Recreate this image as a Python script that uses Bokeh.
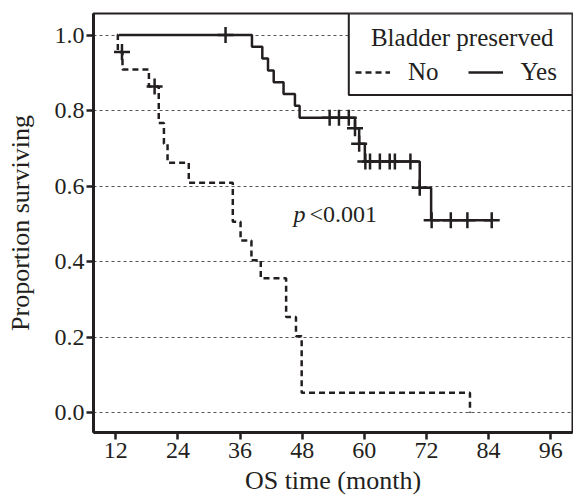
import numpy as np
from bokeh.plotting import figure
from bokeh.models import Range1d, Legend, LegendItem, NumeralTickFormatter, BoxAnnotation, Label
from bokeh.embed import file_html
from bokeh.resources import INLINE
from bokeh.core.properties import value

# ---- data ----
# Bladder not preserved (No)
no_time = [12.2, 12.4, 13.3, 18.4, 20.3, 21.3, 22.0, 26.1, 34.6, 36.1, 38.2, 40.0, 44.9, 46.8, 47.9, 80.4]
no_surv = [1.0, 0.955, 0.909, 0.864, 0.767, 0.712, 0.662, 0.609, 0.506, 0.456, 0.404, 0.356, 0.254, 0.203, 0.053, 0.0]
no_cens_time = [13.2, 19.5]
no_cens_surv = [0.955, 0.864]

# Bladder preserved (Yes)
yes_time = [12.6, 38.3, 40.3, 41.4, 42.5, 44.4, 46.6, 47.5, 58.2, 59.0, 60.1, 70.7, 72.9, 84.6]
yes_surv = [1.0, 0.969, 0.938, 0.906, 0.875, 0.844, 0.813, 0.781, 0.753, 0.712, 0.665, 0.596, 0.510, 0.510]
yes_cens_time = [33.2, 53.3, 55.1, 57.0, 58.2, 59.0, 60.2, 61.1, 63.0, 64.9, 65.9, 68.9, 70.7, 73.0, 76.7, 79.9, 84.6]
yes_cens_surv = [1.0, 0.781, 0.781, 0.781, 0.753, 0.712, 0.665, 0.665, 0.665, 0.665, 0.665, 0.665, 0.596, 0.510, 0.510, 0.510, 0.510]

x_ticks = [12, 24, 36, 48, 60, 72, 84, 96]
y_ticks = [0.0, 0.2, 0.4, 0.6, 0.8, 1.0]

FONT = "Liberation Serif"
INK = "#231f20"
X0, X1 = 7.7, 100.2
Y0, Y1 = -0.052, 1.057

p = figure(width=573, height=499,
           x_range=Range1d(X0, X1), y_range=Range1d(Y0, Y1),
           output_backend="svg", toolbar_location=None,
           min_border_left=93, min_border_right=1, min_border_top=13, min_border_bottom=67)

p.outline_line_color = INK
p.outline_line_width = 2
p.outline_line_alpha = 1.0
p.background_fill_color = "white"
p.border_fill_color = "white"

p.xgrid.visible = False
p.ygrid.grid_line_color = "#555555"
p.ygrid.grid_line_dash = "3 3"
p.ygrid.grid_line_width = 1

p.xaxis.ticker = x_ticks
p.yaxis.ticker = y_ticks
p.yaxis.formatter = NumeralTickFormatter(format="0.0")

for ax in (p.xaxis, p.yaxis):
    ax.axis_line_color = INK
    ax.axis_line_width = 3
    ax.major_tick_line_color = INK
    ax.major_tick_line_width = 2.5
    ax.major_tick_out = 7
    ax.major_tick_in = 0
    ax.minor_tick_line_color = None
    ax.major_label_text_font = FONT
    ax.major_label_text_font_size = "24px"
    ax.major_label_text_color = INK
    ax.axis_label_text_font = FONT
    ax.axis_label_text_font_size = "26px"
    ax.axis_label_text_font_style = "normal"
    ax.axis_label_text_color = INK

p.xaxis.axis_label = "OS time (month)"
p.yaxis.axis_label = "Proportion surviving"
p.xaxis.major_label_standoff = 3
p.xaxis.axis_label_standoff = 5
p.yaxis.major_label_standoff = 2
p.yaxis.axis_label_standoff = 17

no_line = p.step(no_time, no_surv, mode="after", line_color=INK, line_width=2.5, line_dash="6 4")
yes_line = p.step(yes_time, yes_surv, mode="after", line_color=INK, line_width=2.5)

p.scatter(no_cens_time, no_cens_surv, marker="cross", size=16, line_color=INK, line_width=2.5)
p.scatter(yes_cens_time, yes_cens_surv, marker="cross", size=16, line_color=INK, line_width=2.5)

p.text(x=[46.3], y=[0.526], text=["p"], text_font=value(FONT), text_font_style="italic",
       text_font_size="24px", text_baseline="alphabetic", text_align="left", text_color=INK)
p.text(x=[49.4], y=[0.526], text=["<0.001"], text_font=value(FONT), text_font_style="normal",
       text_font_size="24px", text_baseline="alphabetic", text_align="left", text_color=INK)

# legend frame and title
box = BoxAnnotation(left=57.0, right=X1, top=Y1, bottom=0.841,
                    fill_color="white", fill_alpha=1.0,
                    line_color=INK, line_width=2, line_alpha=1.0)
p.add_layout(box)
p.add_layout(Label(x=78.9, y=0.993, text="Bladder preserved", text_align="center",
                   text_baseline="alphabetic", text_font=FONT, text_font_size="25px",
                   text_color=INK))

legend = Legend(items=[LegendItem(label="No", renderers=[no_line]),
                       LegendItem(label="Yes", renderers=[yes_line])],
                orientation="horizontal", location=(262, 346))
legend.margin = 0
legend.padding = 10
legend.spacing = 29
legend.label_standoff = 18
legend.glyph_width = 35
legend.border_line_color = None
legend.background_fill_alpha = 0.0
legend.label_text_font = FONT
legend.label_text_font_size = "25px"
legend.label_text_color = INK
p.add_layout(legend)

open("out.html", "w").write(file_html(p, INLINE))
